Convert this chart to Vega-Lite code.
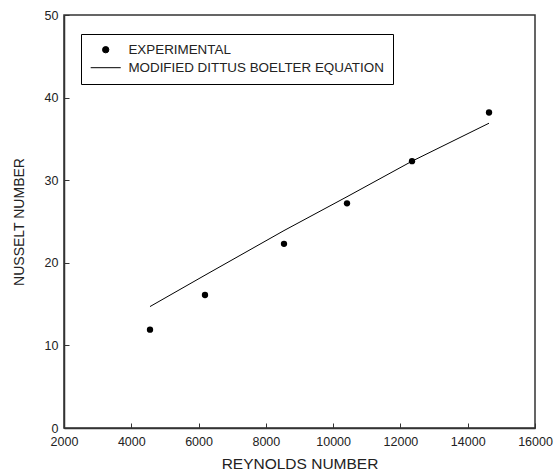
{
  "$schema": "https://vega.github.io/schema/vega-lite/v6.json",
  "width": 471,
  "height": 413,
  "autosize": "none",
  "padding": {"left": 64, "top": 15, "right": 24, "bottom": 44},
  "background": "white",
  "config": {
    "font": "Liberation Sans",
    "view": {"stroke": "#333333", "strokeWidth": 1.5},
    "axis": {
      "grid": false,
      "domainColor": "#333333",
      "domainWidth": 1.5,
      "tickColor": "#333333",
      "tickSize": -5,
      "labelFlush": false,
      "labelOverlap": false,
      "labelFont": "Liberation Sans",
      "labelFontSize": 12.5,
      "labelColor": "#222222",
      "titleFont": "Liberation Sans",
      "titleFontWeight": "normal",
      "titleColor": "#222222"
    }
  },
  "datasets": {
    "exp": [
      {"re": 4556, "nu": 11.9, "series": "EXPERIMENTAL"},
      {"re": 6191, "nu": 16.1, "series": "EXPERIMENTAL"},
      {"re": 8539, "nu": 22.3, "series": "EXPERIMENTAL"},
      {"re": 10412, "nu": 27.2, "series": "EXPERIMENTAL"},
      {"re": 12344, "nu": 32.3, "series": "EXPERIMENTAL"},
      {"re": 14633, "nu": 38.2, "series": "EXPERIMENTAL"}
    ],
    "model": [
      {"re": 4556, "nu": 14.7, "series": "MODIFIED DITTUS BOELTER EQUATION"},
      {"re": 6191, "nu": 18.5, "series": "MODIFIED DITTUS BOELTER EQUATION"},
      {"re": 8539, "nu": 23.9, "series": "MODIFIED DITTUS BOELTER EQUATION"},
      {"re": 10412, "nu": 28.0, "series": "MODIFIED DITTUS BOELTER EQUATION"},
      {"re": 12344, "nu": 32.3, "series": "MODIFIED DITTUS BOELTER EQUATION"},
      {"re": 14633, "nu": 36.9, "series": "MODIFIED DITTUS BOELTER EQUATION"}
    ]
  },
  "layer": [
    {
      "data": {"name": "model"},
      "mark": {"type": "line", "color": "black", "strokeWidth": 1},
      "encoding": {
        "x": {"field": "re", "type": "quantitative", "scale": {"domain": [2000, 16000], "nice": false, "zero": false},
              "axis": {"title": "REYNOLDS NUMBER", "titleFontSize": 15.5, "values": [2000, 4000, 6000, 8000, 10000, 12000, 14000, 16000], "format": "d", "labelPadding": 12, "titlePadding": 9}},
        "y": {"field": "nu", "type": "quantitative", "scale": {"domain": [0, 50], "nice": false},
              "axis": {"title": "NUSSELT NUMBER", "titleFontSize": 14, "values": [0, 10, 20, 30, 40, 50], "labelPadding": 11, "titlePadding": 18}}
      }
    },
    {
      "data": {"name": "exp"},
      "mark": {"type": "point", "filled": true, "opacity": 1, "size": 40},
      "encoding": {
        "x": {"field": "re", "type": "quantitative"},
        "y": {"field": "nu", "type": "quantitative"},
        "color": {"field": "series", "type": "nominal",
                  "scale": {"domain": ["EXPERIMENTAL", "MODIFIED DITTUS BOELTER EQUATION"], "range": ["black", "black"]}},
        "shape": {"field": "series", "type": "nominal",
                  "scale": {"domain": ["EXPERIMENTAL", "MODIFIED DITTUS BOELTER EQUATION"], "range": ["circle", "M-4.75,0H4.75"]},
                  "legend": {
                   "title": null,
                   "orient": "none",
                   "legendX": 17,
                   "legendY": 19,
                   "strokeColor": "black",
                   "padding": 9,
                   "labelFont": "Liberation Sans",
                   "labelFontSize": 13.4,
                   "labelColor": "#222222",
                   "symbolOffset": 9,
                   "labelOffset": 16,
                   "labelLimit": 400,
                   "rowPadding": 3,
                   "symbolSize": 40,
                   "symbolStrokeColor": "black",
                   "symbolStrokeWidth": 1,
                   "symbolFillColor": "black",
                   "symbolOpacity": 1
                 }}
      }
    }
  ]
}
